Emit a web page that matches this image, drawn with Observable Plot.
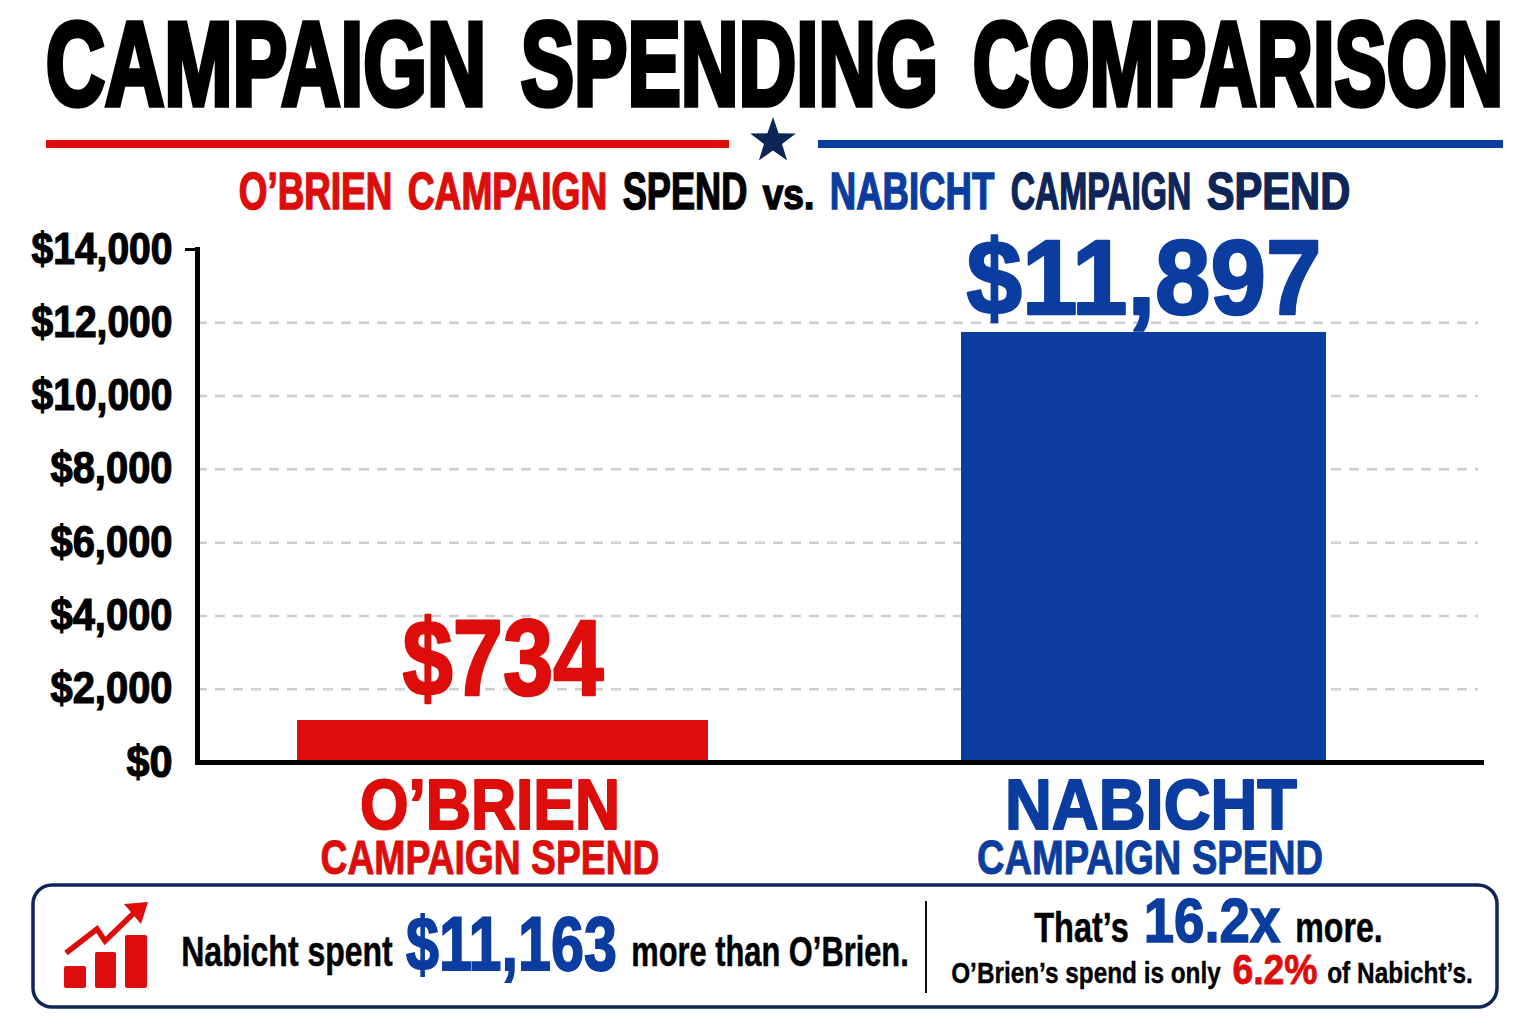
<!DOCTYPE html>
<html><head><meta charset="utf-8">
<script src="https://cdn.jsdelivr.net/npm/d3@7"></script>
<script src="https://cdn.jsdelivr.net/npm/@observablehq/plot@0.6"></script>
<style>
html,body{margin:0;padding:0;background:#fff;width:1536px;height:1024px;overflow:hidden}
#chart,#overlay{position:absolute;left:0;top:0}
#chart svg{display:block;background:transparent}
#chart text{font-family:"Liberation Sans Narrow","Liberation Sans",sans-serif}
.ticklabels text{stroke:#000;stroke-width:1.2px;fill:#000}
</style></head><body>
<div id="chart"></div>
<svg id="overlay" width="1536" height="1024" viewBox="0 0 1536 1024"></svg>
<script>
const FONT = '"Liberation Sans Narrow","Liberation Sans",sans-serif';
const RED = "#dc0d0a", BLUE = "#0a3d9f", NAVY = "#0e2557", BLACK = "#000";

// Data
const candidates = ["O\u2019BRIEN", "NABICHT"];
const printedSpend = [734, 11897];        // figures printed above the bars
const drawnBarHeights = [1146, 11735];    // heights the bars reach against the axis in the reference
const subLabel = "CAMPAIGN SPEND";
const axisTicks = [0, 2000, 4000, 6000, 8000, 10000, 12000, 14000];
const gridTicks = [2000, 4000, 6000, 8000, 10000, 12000];
const usd = d3.format("$,");
const bars = candidates.map((name, i) => ({name, height: drawnBarHeights[i], spend: printedSpend[i]}));

const chart = Plot.plot({
  width: 1536, height: 880,
  marginLeft: 197, marginRight: 55, marginTop: 249, marginBottom: 118,
  style: {background: "transparent"},
  x: {type: "band", domain: candidates, range: [181.5, 1464], padding: 0, axis: null, label: null},
  y: {domain: [0, 14000], axis: null, label: null},
  marks: [
    Plot.gridY(gridTicks, {stroke: "#cfcfcf", strokeOpacity: 1, strokeWidth: 2.5, strokeDasharray: "10,8", insetRight: 3}),
    Plot.barY([bars[0]], {x: "name", y: "height", fill: RED, insetLeft: 115, insetRight: 115}),
    Plot.barY([bars[1]], {x: "name", y: "height", fill: BLUE, insetLeft: 138, insetRight: 138}),
    Plot.frame({anchor: "left", stroke: "#000", strokeWidth: 5}),
    Plot.frame({anchor: "bottom", stroke: "#000", strokeWidth: 5}),
    Plot.axisY({ticks: [14000], tickSize: 12, stroke: "#000", strokeWidth: 3, text: null, label: null}),
    Plot.axisY(axisTicks, {tickSize: 0, tickPadding: 25, tickFormat: usd, fontSize: 44, fontWeight: 700, fill: "#000", label: null, className: "ticklabels"}),
    Plot.text([bars[0]], {x: "name", y: "height", text: d => usd(d.spend), fill: RED, stroke: RED, strokeWidth: 2.5, fontSize: 108, fontWeight: 700, lineAnchor: "bottom", dy: -26, className: "v0"}),
    Plot.text([bars[1]], {x: "name", y: "height", text: d => usd(d.spend), fill: BLUE, stroke: BLUE, strokeWidth: 2.5, fontSize: 106, fontWeight: 700, lineAnchor: "bottom", dy: -18, className: "v1"}),
    Plot.text([bars[0]], {x: "name", y: () => 0, text: "name", fill: RED, stroke: RED, strokeWidth: 2, fontSize: 70, fontWeight: 700, lineAnchor: "bottom", dx: -13, dy: 66, className: "n0"}),
    Plot.text([bars[1]], {x: "name", y: () => 0, text: "name", fill: BLUE, stroke: BLUE, strokeWidth: 2, fontSize: 70, fontWeight: 700, lineAnchor: "bottom", dx: 7, dy: 66, className: "n1"}),
    Plot.text([bars[0]], {x: "name", y: () => 0, text: () => subLabel, fill: RED, stroke: RED, strokeWidth: 1, fontSize: 48, fontWeight: 700, lineAnchor: "bottom", dx: -13, dy: 111, className: "s0"}),
    Plot.text([bars[1]], {x: "name", y: () => 0, text: () => subLabel, fill: BLUE, stroke: BLUE, strokeWidth: 1, fontSize: 48, fontWeight: 700, lineAnchor: "bottom", dx: 6, dy: 111, className: "s1"})
  ]
});
document.getElementById("chart").append(chart);

// fit Plot text to the widths seen in the reference
const setLen = (t, w) => { t.setAttribute("textLength", w); t.setAttribute("lengthAdjust", "spacingAndGlyphs"); };
const fit = (sel, w) => chart.querySelectorAll(sel + " text").forEach(t => setLen(t, w));
fit(".v0", 201); fit(".v1", 355); fit(".n0", 260); fit(".n1", 292); fit(".s0", 339); fit(".s1", 346);
const tickWidths = {2: 46, 6: 122, 7: 141};
chart.querySelectorAll(".ticklabels text").forEach(t => setLen(t, tickWidths[t.textContent.length]));

// Headline, subtitle and callout copy: [text, colour, size, left, right, baseline, extra weight]
const copy = [
  ["CAMPAIGN", BLACK, 118, 43, 489, 105, 5.5],
  ["SPENDING", BLACK, 118, 518, 941, 105, 5.5],
  ["COMPARISON", BLACK, 118, 970, 1506, 105, 5.5],
  ["O\u2019BRIEN", RED, 51, 238, 393, 209, 1.5],
  ["CAMPAIGN", RED, 51, 407, 608, 209, 1.5],
  ["SPEND", BLACK, 51, 622, 748, 209, 1.5],
  ["vs.", BLACK, 42, 762, 815, 209, 1.5],
  ["NABICHT", BLUE, 51, 829, 995, 209, 1.5],
  ["CAMPAIGN", NAVY, 51, 1010, 1192, 209, 1.5],
  ["SPEND", NAVY, 51, 1206, 1351, 209, 1.5],
  ["Nabicht spent", BLACK, 43, 181, 393, 966, .5],
  ["$11,163", BLUE, 76, 405, 618, 970, 1.8],
  ["more than O\u2019Brien.", BLACK, 43, 631, 909, 966, .5],
  ["That\u2019s", BLACK, 42, 1034, 1129, 942, .5],
  ["16.2x", BLUE, 63, 1143, 1281, 942, 1.5],
  ["more.", BLACK, 42, 1295, 1383, 942, .5],
  ["O\u2019Brien\u2019s spend is only", BLACK, 30, 951, 1221, 983, .4],
  ["6.2%", RED, 42, 1232, 1318, 984, .8],
  ["of Nabicht\u2019s.", BLACK, 30, 1327, 1473, 983, .4]
];

const o = d3.select("#overlay");
// rules and star
o.append("rect").attr("x", 46).attr("y", 140).attr("width", 683).attr("height", 8).attr("fill", RED);
o.append("rect").attr("x", 818).attr("y", 140).attr("width", 685).attr("height", 8).attr("fill", BLUE);
o.append("path").attr("transform", "translate(773,141)")
  .attr("d", d3.range(10).map(i => {
    const r = i % 2 ? 9.5 : 24, a = i * Math.PI / 5 - Math.PI / 2;
    return (i ? "L" : "M") + (r * Math.cos(a)).toFixed(2) + "," + (r * Math.sin(a)).toFixed(2);
  }).join("") + "Z").attr("fill", NAVY);
// callout box
o.append("rect").attr("x", 33).attr("y", 885).attr("width", 1464).attr("height", 122).attr("rx", 19)
  .attr("fill", "#fff").attr("stroke", NAVY).attr("stroke-width", 3.5);
o.append("rect").attr("x", 925).attr("y", 901).attr("width", 2).attr("height", 92).attr("fill", "#111");
// icon
[[64, 966, 22, 22], [95, 952, 21, 36], [125, 935, 22, 53]].forEach(([x, y, w, h]) =>
  o.append("rect").attr("x", x).attr("y", y).attr("width", w).attr("height", h).attr("rx", 2).attr("fill", RED));
o.append("path").attr("d", "M66,953L97,929L105,941L135,912").attr("fill", "none").attr("stroke", RED).attr("stroke-width", 5.5);
o.append("path").attr("d", "M124,904L148,902L141,924Z").attr("fill", RED);
// text
copy.forEach(([t, c, s, l, r, b, w]) => {
  o.append("text").text(t).attr("x", l + w / 2).attr("y", b)
    .attr("textLength", r - l - w).attr("lengthAdjust", "spacingAndGlyphs")
    .attr("font-family", FONT).attr("font-weight", 700).attr("font-size", s)
    .attr("fill", c).attr("stroke", c).attr("stroke-width", w);
});
</script>
</body></html>
